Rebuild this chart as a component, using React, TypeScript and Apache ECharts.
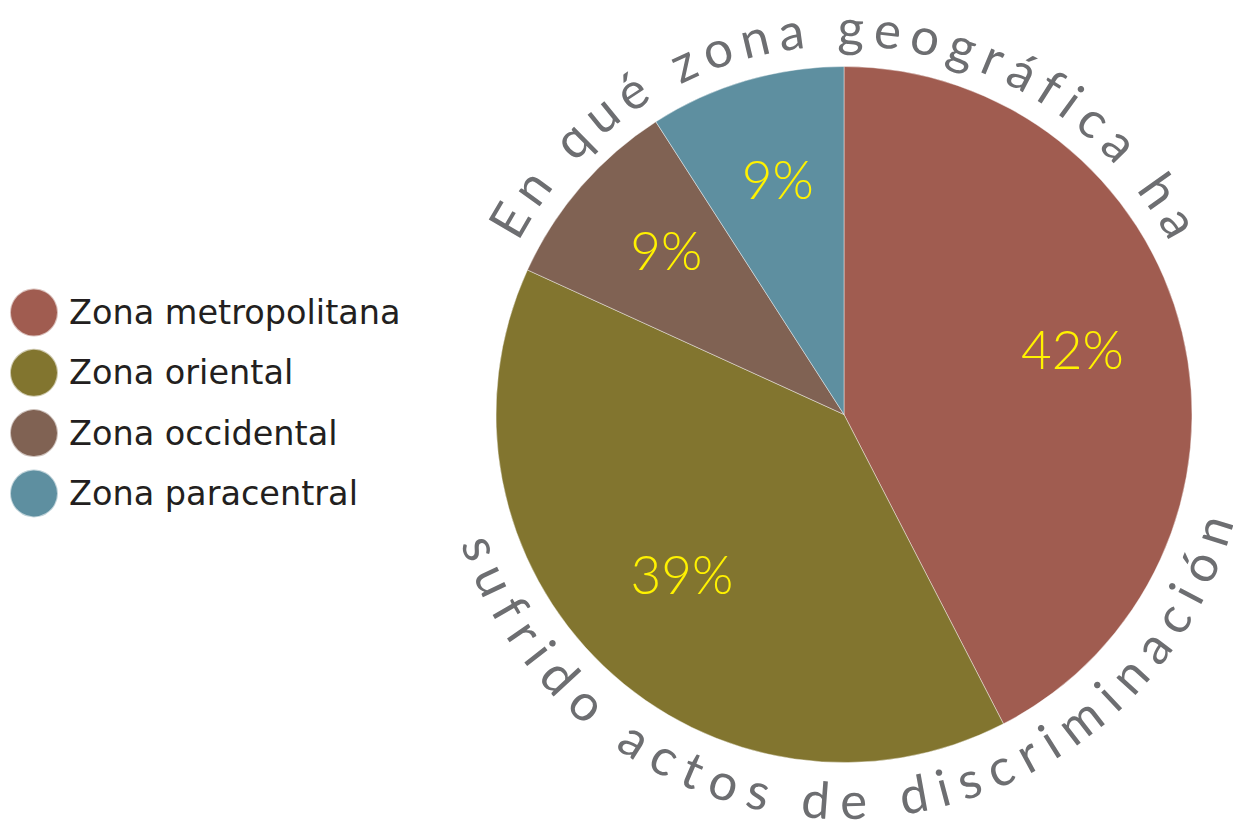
import React, { useEffect, useRef } from "react";
import * as echarts from "echarts";

const categories = ["Zona metropolitana", "Zona oriental", "Zona occidental", "Zona paracentral"];
const values = [42, 39, 9, 9];
const colors = ["#a05c50", "#82752f", "#806253", "#5e8fa0"];
const titleTop = "En qué zona geográfica ha";
const titleBottom = "sufrido actos de discriminación";

const CX = 844;
const CY = 414.5;
const R = 348;
const TITLE_FONT = 51;
const TITLE_FAMILY = "Lato";
const TITLE_COLOR = "#6d6e71";

function arcText(
  text: string,
  r: number,
  startDeg: number,
  endDeg: number,
  outward: boolean
) {
  const canvas = document.createElement("canvas");
  const ctx = canvas.getContext("2d")!;
  ctx.font = `${TITLE_FONT}px ${TITLE_FAMILY}`;
  const chars = Array.from(text);
  const widths = chars.map((c) => ctx.measureText(c).width);
  const totalAngle = (Math.abs(endDeg - startDeg) * Math.PI) / 180;
  const arcLen = totalAngle * r;
  const sumW = widths.reduce((a, b) => a + b, 0);
  const gap = (arcLen - sumW) / (chars.length - 1);
  const dir = endDeg > startDeg ? 1 : -1;
  let s = 0;
  const els: any[] = [];
  chars.forEach((c, i) => {
    const mid = s + widths[i] / 2;
    s += widths[i] + gap;
    if (c === " ") return;
    const theta = (startDeg * Math.PI) / 180 + (dir * mid) / r;
    const x = CX + r * Math.sin(theta);
    const y = CY - r * Math.cos(theta);
    const rotation = outward ? -theta : Math.PI - theta;
    els.push({
      type: "text",
      x,
      y,
      rotation,
      silent: true,
      style: {
        text: c,
        fontSize: TITLE_FONT,
        fontFamily: TITLE_FAMILY,
        lineHeight: 34,
        fill: TITLE_COLOR,
        align: "center",
        verticalAlign: "middle",
      },
    });
  });
  return els;
}

export default function App() {
  const ref = useRef<HTMLDivElement>(null);
  useEffect(() => {
    if (!ref.current) return;
    const chart = echarts.init(ref.current, undefined, { renderer: "svg" });
    const data = categories.map((name, i) => ({
      name,
      value: values[i],
      itemStyle: { color: colors[i] },
    }));
    const graphics = [
      ...arcText(titleTop, 388, -62, 62, true),
      ...arcText(titleBottom, 385, 251.5, 105.3, false),
    ];
    chart.setOption({
      animation: false,
      legend: {
        orient: "vertical",
        left: 9,
        top: 287.5,
        padding: 0,
        icon: "circle",
        itemWidth: 60,
        itemHeight: 48,
        itemGap: 10.3,
        selectedMode: false,
        data: categories,
        textStyle: {
          fontFamily: "DejaVu Sans",
          fontSize: 33.5,
          lineHeight: 40,
          color: "#231f20",
        },
      },
      graphic: graphics,
      series: [
        {
          type: "pie",
          center: [CX, CY],
          radius: [0, R],
          startAngle: 90,
          clockwise: true,
          silent: true,
          label: { show: false },
          labelLine: { show: false },
          itemStyle: { borderColor: "rgba(255,255,255,0.6)", borderWidth: 0.7 },
          emphasis: { disabled: true },
          data,
        },
        {
          type: "pie",
          center: [CX, CY],
          radius: [116, R],
          startAngle: 90,
          clockwise: true,
          silent: true,
          legendHoverLink: false,
          itemStyle: { color: "transparent", borderWidth: 0 },
          label: {
            show: true,
            position: "inside",
            formatter: "{c}%",
            color: "#fff200",
            fontFamily: "Lato",
            fontWeight: 300,
            fontSize: 53,
          },
          labelLayout: { dy: -11 },
          labelLine: { show: false },
          emphasis: { disabled: true },
          data: categories.map((name, i) => ({
            name: name + " ",
            value: values[i],
            itemStyle: { color: "transparent" },
          })),
        },
      ],
    });
    return () => chart.dispose();
  }, []);
  return (
    <div
      ref={ref}
      style={{ position: "absolute", left: 0, top: 0, width: 1233, height: 825 }}
    />
  );
}
